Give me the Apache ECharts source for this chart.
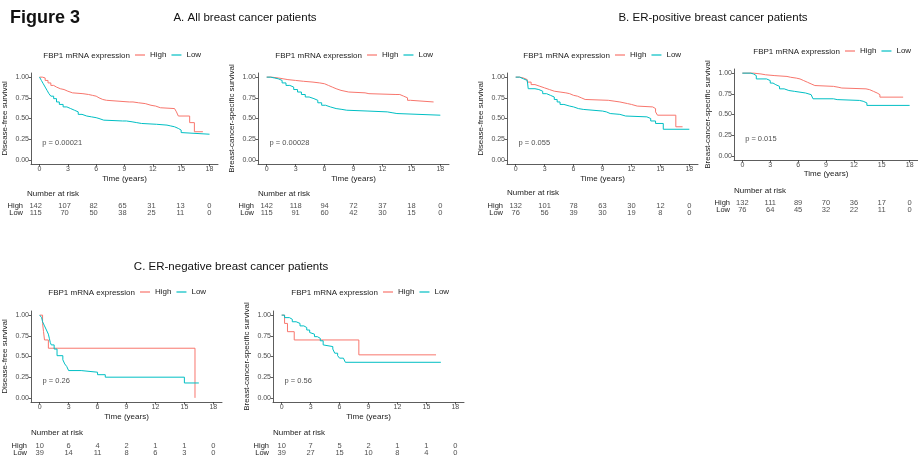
<!DOCTYPE html>
<html>
<head>
<meta charset="utf-8">
<script src="https://cdn.jsdelivr.net/npm/echarts@6/dist/echarts.min.js"></script>
<style>
  html, body { margin: 0; padding: 0; background: #fff; }
  #main { width: 918px; height: 458px; }
</style>
</head>
<body>
<div id="main"></div>
<script>
// ticks
const timeTicks = [0, 3, 6, 9, 12, 15, 18];
const survTicks = [0, 0.25, 0.5, 0.75, 1];

// A. all patients - disease-free survival
const allDfsHigh = [[0,1],[0.3,0.99],[0.6,0.96],[0.9,0.93],[1.2,0.9],[1.5,0.88],[1.8,0.86],[2.2,0.85],[2.6,0.83],[3.0,0.81],[3.5,0.8],[4.6,0.79],[5.2,0.78],[5.6,0.77],[6.0,0.75],[6.3,0.73],[6.7,0.72],[7.1,0.7],[9.5,0.7],[9.9,0.69],[10.5,0.68],[11.2,0.66],[11.8,0.65],[12.3,0.63],[12.8,0.62],[14.3,0.62],[14.5,0.58],[14.7,0.53],[15.9,0.45],[16.4,0.34],[17.3,0.34]];
const allDfsLow = [[0,1],[0.2,0.96],[0.4,0.92],[0.6,0.88],[0.8,0.84],[1.0,0.8],[1.2,0.77],[1.5,0.74],[1.8,0.7],[2.1,0.67],[2.5,0.64],[2.9,0.62],[3.3,0.6],[3.7,0.58],[4.1,0.55],[4.5,0.53],[5.0,0.52],[5.5,0.51],[6.0,0.5],[6.3,0.48],[6.8,0.47],[8.8,0.47],[9.2,0.46],[9.8,0.45],[10.3,0.44],[10.8,0.43],[12.4,0.42],[13.5,0.41],[13.9,0.4],[14.3,0.38],[14.7,0.36],[15.0,0.33],[15.2,0.31],[18,0.31]];
// A. all patients - breast-cancer-specific survival
const allBcssHigh = [[0,1],[0.5,0.99],[1.2,0.98],[1.7,0.97],[2.2,0.96],[3.0,0.95],[3.8,0.94],[4.8,0.93],[5.5,0.92],[6.0,0.9],[6.4,0.88],[6.8,0.86],[7.2,0.84],[7.7,0.82],[8.5,0.81],[10.2,0.8],[10.6,0.79],[13.4,0.79],[13.8,0.77],[14.2,0.75],[14.6,0.72],[14.9,0.7],[17.3,0.7]];
const allBcssLow = [[0,1],[0.4,0.99],[0.8,0.98],[1.2,0.96],[1.6,0.93],[2.0,0.9],[2.4,0.88],[2.8,0.85],[3.2,0.82],[3.6,0.79],[4.0,0.76],[4.4,0.74],[4.9,0.72],[5.3,0.69],[5.7,0.66],[6.1,0.64],[6.6,0.62],[7.2,0.61],[7.8,0.6],[8.3,0.59],[10.5,0.58],[12.5,0.57],[13.0,0.56],[13.5,0.54],[18,0.54]];

// B. ER-positive
const posDfsHigh = [[0,1],[0.4,0.99],[0.8,0.97],[1.2,0.94],[1.6,0.91],[2.0,0.89],[2.5,0.87],[3.0,0.85],[3.5,0.83],[4.0,0.82],[4.6,0.81],[5.2,0.8],[5.6,0.78],[6.0,0.77],[6.4,0.75],[6.8,0.73],[7.2,0.72],[9.6,0.71],[10.2,0.7],[10.8,0.68],[11.6,0.67],[12.0,0.65],[12.6,0.64],[14.2,0.62],[14.5,0.58],[14.7,0.54],[16.6,0.4],[17.3,0.4]];
const posDfsLow = [[0,1],[0.4,0.98],[0.8,0.96],[1.2,0.94],[1.3,0.86],[2.0,0.85],[2.4,0.83],[2.8,0.8],[3.2,0.78],[3.6,0.76],[4.0,0.73],[4.3,0.7],[4.6,0.67],[5.0,0.65],[5.6,0.64],[6.0,0.62],[6.5,0.61],[7.0,0.59],[9.0,0.58],[9.4,0.56],[9.8,0.55],[10.8,0.53],[11.4,0.52],[13.6,0.5],[14.0,0.47],[14.5,0.44],[15.3,0.37],[18,0.37]];
const posBcssHigh = [[0,1],[1.2,0.99],[2.0,0.98],[2.5,0.97],[3.5,0.96],[4.8,0.95],[5.2,0.94],[5.8,0.93],[6.2,0.91],[6.6,0.89],[7.0,0.87],[7.4,0.85],[7.8,0.84],[9.8,0.83],[10.3,0.82],[10.7,0.81],[13.3,0.8],[13.7,0.78],[14.1,0.76],[14.5,0.74],[14.8,0.71],[17.3,0.71]];
const posBcssLow = [[0,1],[0.9,0.99],[1.2,0.97],[1.5,0.93],[2.6,0.91],[3.0,0.88],[3.3,0.86],[3.6,0.84],[4.0,0.81],[4.5,0.79],[5.0,0.78],[5.6,0.77],[6.2,0.76],[6.8,0.74],[7.4,0.72],[7.6,0.69],[9.8,0.68],[10.2,0.67],[12.6,0.66],[13.0,0.64],[13.4,0.61],[18,0.61]];

// C. ER-negative
const negDfsHigh = [[0,1],[0.3,0.9],[0.4,0.8],[0.5,0.7],[0.9,0.6],[16.1,0]];
const negDfsLow = [[0,1],[0.2,0.97],[0.3,0.92],[0.5,0.87],[0.7,0.82],[0.9,0.77],[1.0,0.72],[1.1,0.67],[1.2,0.64],[1.5,0.59],[1.8,0.51],[2.4,0.46],[2.6,0.41],[2.8,0.38],[3.0,0.33],[4.3,0.31],[6.0,0.28],[6.8,0.25],[15.0,0.18],[16.5,0.18]];
const negBcssHigh = [[0,1],[0.3,0.9],[0.6,0.8],[1.3,0.7],[8.0,0.52],[16.0,0.52]];
const negBcssLow = [[0,1],[0.3,0.97],[0.8,0.95],[1.1,0.92],[1.5,0.9],[1.9,0.87],[2.3,0.85],[2.6,0.82],[2.9,0.79],[3.1,0.77],[3.4,0.74],[3.7,0.72],[4.0,0.69],[4.3,0.64],[4.5,0.62],[5.3,0.59],[5.5,0.54],[5.8,0.51],[6.0,0.48],[6.4,0.46],[6.6,0.43],[16.5,0.43]];

// numbers at risk (at timeTicks)
const allDfsRiskHigh = [142, 107, 82, 65, 31, 13, 0];
const allDfsRiskLow = [115, 70, 50, 38, 25, 11, 0];
const allBcssRiskHigh = [142, 118, 94, 72, 37, 18, 0];
const allBcssRiskLow = [115, 91, 60, 42, 30, 15, 0];
const posDfsRiskHigh = [132, 101, 78, 63, 30, 12, 0];
const posDfsRiskLow = [76, 56, 39, 30, 19, 8, 0];
const posBcssRiskHigh = [132, 111, 89, 70, 36, 17, 0];
const posBcssRiskLow = [76, 64, 45, 32, 22, 11, 0];
const negDfsRiskHigh = [10, 6, 4, 2, 1, 1, 0];
const negDfsRiskLow = [39, 14, 11, 8, 6, 3, 0];
const negBcssRiskHigh = [10, 7, 5, 2, 1, 1, 0];
const negBcssRiskLow = [39, 27, 15, 10, 8, 4, 0];

const riskRows = ['Low', 'High'];

const FONT = '"Liberation Sans", Arial, sans-serif';
const RED = '#F8766D';
const CYAN = '#00BFC4';

// layout of each km panel
const panels = [
  { left: 27, top: 73, riskTop: 202.5, nrY: 194, legX: 135, legY: 56, xGap: 11, ylab: 'Disease-free survival', p: 'p = 0.00021', high: allDfsHigh, low: allDfsLow, rh: allDfsRiskHigh, rl: allDfsRiskLow },
  { left: 258, top: 73, riskTop: 202.5, nrY: 194, legX: 367, legY: 56, xGap: 11, ylab: 'Breast-cancer-specific survival', p: 'p = 0.00028', high: allBcssHigh, low: allBcssLow, rh: allBcssRiskHigh, rl: allBcssRiskLow },
  { left: 507, top: 73, riskTop: 202.5, nrY: 193, legX: 615, legY: 56, xGap: 11, ylab: 'Disease-free survival', p: 'p = 0.055', high: posDfsHigh, low: posDfsLow, rh: posDfsRiskHigh, rl: posDfsRiskLow },
  { left: 734, top: 69, riskTop: 199.5, nrY: 191, legX: 845, legY: 52, xGap: 9, ylab: 'Breast-cancer-specific survival', p: 'p = 0.015', high: posBcssHigh, low: posBcssLow, rh: posBcssRiskHigh, rl: posBcssRiskLow },
  { left: 31, top: 311, riskTop: 442.5, nrY: 433, legX: 140, legY: 293, xGap: 11, ylab: 'Disease-free survival', p: 'p = 0.26', high: negDfsHigh, low: negDfsLow, rh: negDfsRiskHigh, rl: negDfsRiskLow },
  { left: 273, top: 311, riskTop: 442.5, nrY: 433, legX: 383, legY: 293, xGap: 11, ylab: 'Breast-cancer-specific survival', p: 'p = 0.56', high: negBcssHigh, low: negBcssLow, rh: negBcssRiskHigh, rl: negBcssRiskLow }
];

const axisLineStyle = { color: '#333', width: 0.8 };
const grid = [], xAxis = [], yAxis = [], series = [], legend = [];
const elements = [
  { type: 'text', x: 10, y: 18, style: { text: 'Figure 3', font: 'bold 18px ' + FONT, fill: '#111', align: 'left', verticalAlign: 'middle' } },
  { type: 'text', x: 245, y: 18, style: { text: 'A. All breast cancer patients', font: '11.5px ' + FONT, fill: '#111', align: 'center', verticalAlign: 'middle' } },
  { type: 'text', x: 713, y: 18, style: { text: 'B. ER-positive breast cancer patients', font: '11.5px ' + FONT, fill: '#111', align: 'center', verticalAlign: 'middle' } },
  { type: 'text', x: 231, y: 267, style: { text: 'C. ER-negative breast cancer patients', font: '11.5px ' + FONT, fill: '#111', align: 'center', verticalAlign: 'middle' } }
];

panels.forEach((pn, i) => {
  const g = i * 2, r = i * 2 + 1;
  grid.push({ left: pn.left, top: pn.top, width: 191, height: 91 });
  grid.push({ left: pn.left, top: pn.riskTop, width: 191, height: 14 });

  xAxis.push({
    type: 'value', gridIndex: g, min: -0.9, max: 18.9,
    axisLine: { show: true, onZero: false, lineStyle: axisLineStyle },
    axisTick: { show: true, length: 2.5, customValues: timeTicks, lineStyle: axisLineStyle },
    axisLabel: { customValues: timeTicks, fontSize: 7, color: '#4d4d4d', margin: 2, fontFamily: FONT },
    splitLine: { show: false },
    name: 'Time (years)', nameLocation: 'middle', nameGap: pn.xGap,
    nameTextStyle: { fontSize: 8, color: '#222', fontFamily: FONT }
  });
  xAxis.push({ type: 'value', gridIndex: r, min: -0.9, max: 18.9, show: false });

  yAxis.push({
    type: 'value', gridIndex: g, min: -0.05, max: 1.05,
    axisLine: { show: true, onZero: false, lineStyle: axisLineStyle },
    axisTick: { show: true, length: 2.5, customValues: survTicks, lineStyle: axisLineStyle },
    axisLabel: { customValues: survTicks, formatter: v => v.toFixed(2), fontSize: 7, color: '#4d4d4d', margin: 2, fontFamily: FONT },
    splitLine: { show: false },
    name: pn.ylab, nameLocation: 'middle', nameRotate: 90, nameGap: 22,
    nameTextStyle: { fontSize: 8, color: '#222', fontFamily: FONT }
  });
  yAxis.push({
    type: 'category', gridIndex: r, data: riskRows,
    axisLine: { show: false }, axisTick: { show: false },
    axisLabel: { interval: 0, hideOverlap: false, fontSize: 7.5, color: '#222', margin: 4, fontFamily: FONT }
  });

  series.push({
    name: 'High', type: 'line', step: 'end', xAxisIndex: g, yAxisIndex: g,
    data: pn.high, showSymbol: false, symbol: 'none', color: RED,
    lineStyle: { width: 1, color: RED }, animation: false
  });
  series.push({
    name: 'Low', type: 'line', step: 'end', xAxisIndex: g, yAxisIndex: g,
    data: pn.low, showSymbol: false, symbol: 'none', color: CYAN,
    lineStyle: { width: 1, color: CYAN }, animation: false
  });
  // p value, placed like survminer (x near 0, y = 0.2)
  series.push({
    name: 'pval', type: 'scatter', xAxisIndex: g, yAxisIndex: g,
    data: [[0.3, 0.2]], symbolSize: 0, silent: true, animation: false,
    label: { show: true, position: 'right', distance: 0, formatter: pn.p, fontSize: 7.5, color: '#222', fontFamily: FONT }
  });
  // risk table
  series.push({
    name: 'risk', type: 'scatter', xAxisIndex: r, yAxisIndex: r,
    data: timeTicks.map((t, j) => [t, 1, pn.rh[j]]).concat(timeTicks.map((t, j) => [t, 0, pn.rl[j]])),
    symbolSize: 0, silent: true, animation: false,
    label: { show: true, position: 'inside', formatter: p => String(p.value[2]), fontSize: 7.5, color: '#222', fontFamily: FONT }
  });

  legend.push({
    left: pn.legX, top: pn.legY - 5, padding: 0, data: ['High', 'Low'],
    icon: 'rect', itemWidth: 10, itemHeight: 1.2, itemGap: 5, selectedMode: false,
    textStyle: { fontSize: 8, color: '#222', fontFamily: FONT }
  });
  elements.push({ type: 'text', x: pn.legX - 5, y: pn.legY, style: { text: 'FBP1 mRNA expression', font: '8px ' + FONT, fill: '#222', align: 'right', verticalAlign: 'middle' } });
  elements.push({ type: 'text', x: pn.left, y: pn.nrY, style: { text: 'Number at risk', font: '8px ' + FONT, fill: '#222', align: 'left', verticalAlign: 'middle' } });
});

const chart = echarts.init(document.getElementById('main'), null, { renderer: 'canvas' });
chart.setOption({
  backgroundColor: '#fff',
  animation: false,
  grid: grid,
  xAxis: xAxis,
  yAxis: yAxis,
  legend: legend,
  series: series,
  graphic: { elements: elements }
});
</script>
</body>
</html>
